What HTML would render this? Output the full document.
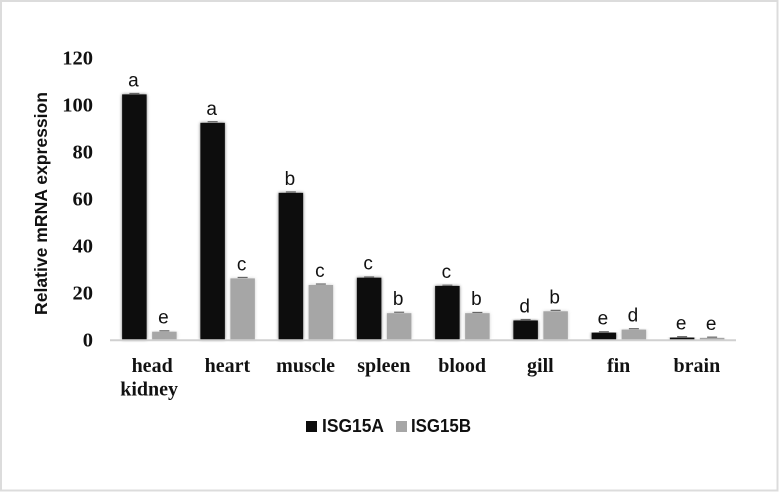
<!DOCTYPE html>
<html>
<head>
<meta charset="utf-8">
<style>
html,body{margin:0;padding:0;background:#fff;}
svg{display:block;filter:blur(0.3px);}
.tick{font:bold 20.5px "Liberation Serif",serif;fill:#111;text-anchor:end;}
.cat{font:bold 20px "Liberation Serif",serif;fill:#111;text-anchor:middle;}
.sig{font:19px "Liberation Sans",sans-serif;fill:#111;text-anchor:middle;}
.ytitle{font:bold 17.5px "Liberation Sans",sans-serif;fill:#111;text-anchor:middle;}
.leg{font:bold 18px "Liberation Sans",sans-serif;fill:#111;}
</style>
</head>
<body>
<svg id="chart" width="779" height="492" viewBox="0 0 779 492" xmlns="http://www.w3.org/2000/svg">
  <defs>
    <filter id="blur" x="-30%" y="-10%" width="160%" height="120%"><feGaussianBlur stdDeviation="1.6"/></filter>
  </defs>
  <rect x="1" y="1" width="776.5" height="489.5" fill="#fff" stroke="#dcdcdc" stroke-width="2"/>
  <g id="marks"></g>
  <text class="ytitle" transform="translate(47 203.5) rotate(-90)" textLength="223" lengthAdjust="spacingAndGlyphs">Relative mRNA expression</text>
  <rect x="306" y="421" width="11" height="11" fill="#0d0d0d"/>
  <text class="leg" x="322" y="432" textLength="62" lengthAdjust="spacingAndGlyphs">ISG15A</text>
  <rect x="396" y="421" width="11" height="11" fill="#a6a6a6"/>
  <text class="leg" x="411" y="432" textLength="60" lengthAdjust="spacingAndGlyphs">ISG15B</text>
</svg>
<script>
var categories = [["head","kidney"],["heart"],["muscle"],["spleen"],["blood"],["gill"],["fin"],["brain"]];
var isg15a = [104.3, 92.2, 62.4, 26.3, 22.8, 8.1, 2.9, 0.8];
var isg15b = [3.3, 26, 23.2, 11.2, 11.2, 12, 4.2, 0.7];
var errA = [0.4, 0.5, 0.4, 0.3, 0.3, 0.4, 0.4, 0.4];
var errB = [0.4, 0.4, 0.4, 0.4, 0.3, 0.4, 0.4, 0.3];
var sigA = ["a","a","b","c","c","d","e","e"];
var sigB = ["e","c","c","b","b","b","d","e"];
var ticks = [0, 20, 40, 60, 80, 100, 120];

var NS = "http://www.w3.org/2000/svg";
var root = document.getElementById("marks");
var plotLeft = 110, plotRight = 736, y0 = 339.5, pxPerUnit = 2.35;
function yScale(v){ return y0 - v * pxPerUnit; }
function bandX(i){ return plotLeft + (plotRight - plotLeft) * i / categories.length; }
var bandW = (plotRight - plotLeft) / categories.length;
function make(tag, attrs, text){
  var el = document.createElementNS(NS, tag);
  for (var k in attrs) el.setAttribute(k, attrs[k]);
  if (text !== undefined) el.textContent = text;
  root.appendChild(el);
  return el;
}
function drawBar(i, v, e, sig, offset, color, series){
  var x = bandX(i) + bandW / 2 + offset;
  var w = 24.5, top = yScale(v);
  var shadow = make("rect", {x:x, y:top, width:w, height:y0-top, fill:color, opacity:0.55, filter:"url(#blur)"});
  
  
  var bar = make("rect", {x:x, y:top, width:w, height:y0-top, fill:color});
  
  
  var err = make("line", {x1:x+w/2-5, x2:x+w/2+5, y1:yScale(v+e), y2:yScale(v+e), stroke:"#666", "stroke-width":1.2});
  
  
  var lab = make("text", {"class":"sig", x:x+w/2-1, y:top-8}, sig);
  
  
}
categories.forEach(function(lines, i){
  drawBar(i, isg15a[i], errA[i], sigA[i], -27, "#0d0d0d", "a");
  drawBar(i, isg15b[i], errB[i], sigB[i], 3, "#a6a6a6", "b");
  lines.forEach(function(t, j){
    var nudge = (lines.length > 1 && j === 0) ? 3 : 0;
    var c = make("text", {"class":"cat", x:bandX(i)+bandW/2+nudge, y:372+j*23.5}, t);
    
    
  });
});
var axis = make("line", {x1:plotLeft, x2:plotRight, y1:y0+0.8, y2:y0+0.8, stroke:"#d0d0d0", "stroke-width":2});


ticks.forEach(function(t){
  var l = make("text", {"class":"tick", x:93, y:yScale(t)+7}, t);
  
  
});
</script>
</body>
</html>
